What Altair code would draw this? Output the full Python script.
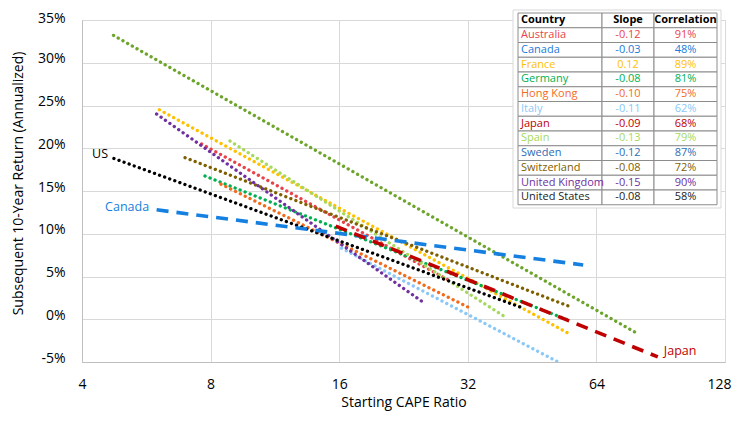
import altair as alt
import pandas as pd

FONT = "Open Sans"

# ---- regression lines (x = starting CAPE, y = subsequent 10y return %) ----
countries = ["Australia", "Canada", "France", "Germany", "Hong Kong", "Italy",
             "Japan", "Spain", "Sweden", "Switzerland", "United Kingdom", "United States"]
x_start = [7.62, 5.98, 6.07, 7.76, 8.46, 16.2, 15.7, 8.88, 4.74, 6.97, 5.98, 4.75]
y_start = [20.5, 12.8, 24.5, 16.75, 15.8, 8.3, 10.9, 20.85, 33.2, 18.9, 24.0, 18.8]
x_end = [29.1, 59.6, 55.3, 54.9, 32.1, 52.1, 89.1, 38.96, 79.2, 55.0, 25.2, 42.4]
y_end = [4.47, 6.35, -1.7, -0.09, 1.4, -5.0, -4.4, 0.34, -1.57, 1.55, 1.96, 1.43]
line_colors = ["#e8434b", "#1580e0", "#ffc000", "#00b050", "#f26b1d", "#8ac8f8",
               "#c00000", "#a6d95b", "#6ca52a", "#7f6000", "#7030a0", "#000000"]
dashed = ["Canada", "Japan"]

# ---- table ----
slopes = ["-0.12", "-0.03", "0.12", "-0.08", "-0.10", "-0.11",
          "-0.09", "-0.13", "-0.12", "-0.08", "-0.15", "-0.08"]
correlations = ["91%", "48%", "89%", "81%", "75%", "62%",
                "68%", "79%", "87%", "72%", "90%", "58%"]
table_colors = ["#e8434b", "#1a7ad8", "#ffc000", "#00b050", "#f26b1d", "#8ac8f8",
                "#c00000", "#a6d95b", "#2f6db5", "#7f6000", "#7030a0", "#222222"]
headers = ["Country", "Slope", "Correlation"]

# ---- annotations ----
ann_text = ["US", "Canada", "Japan"]
ann_x = [4.41, 5.1, 100.5]
ann_y = [19.3, 13.1, -3.7]
ann_color = ["#000000", "#1580e0", "#c00000"]

W, H = 643, 342

rows = []
for i, c in enumerate(countries):
    rows.append({"country": c, "x": x_start[i], "y": y_start[i], "pt": 0})
    rows.append({"country": c, "x": x_end[i], "y": y_end[i], "pt": 1})
lines_df = pd.DataFrame(rows)

xscale = alt.Scale(type="log", base=2, domain=[4, 128], nice=False)
yscale = alt.Scale(domain=[-5, 35], nice=False)
cscale = alt.Scale(domain=countries, range=line_colors)

xenc = alt.X("x:Q", scale=xscale,
             axis=alt.Axis(values=[4, 8, 16, 32, 64, 128], grid=True, ticks=False,
                           labelFlush=False, labelPadding=15, labelFontSize=14,
                           labelOffset={"condition": {"test": "datum.value == 128", "value": -6}, "value": 0},
                           title="Starting CAPE Ratio", titleFontSize=14,
                           titleFontWeight="normal", titlePadding=4,
                           domainColor="#bfbfbf", gridColor="#d9d9d9",
                           labelColor="#000000", titleColor="#000000",
                           labelFont=FONT, titleFont=FONT))
yenc = alt.Y("y:Q", scale=yscale,
             axis=alt.Axis(values=list(range(-5, 40, 5)), grid=True, ticks=False,
                           labelExpr="datum.value + '%'", labelPadding=17,
                           labelOffset={"condition": {"test": "datum.value == 35", "value": -2}, "value": -4},
                           labelFontSize=14, title="Subsequent 10-Year Return (Annualized)",
                           titleFontSize=14, titleFontWeight="normal",
                           titleX=-64, titleY=H / 2 - 8, titleAlign="center",
                           titleBaseline="middle", titleAngle=-90,
                           domainColor="#bfbfbf", gridColor="#d9d9d9",
                           labelColor="#000000", titleColor="#000000",
                           labelFont=FONT, titleFont=FONT))

base = alt.Chart(lines_df)
dotted = base.transform_filter(
    alt.FieldOneOfPredicate(field="country", oneOf=[c for c in countries if c not in dashed])
).mark_line(strokeDash=[0.1, 5.3], strokeCap="round", strokeWidth=3.3, clip=True).encode(
    x=xenc, y=yenc, detail="country:N",
    color=alt.Color("country:N", scale=cscale, legend=None), order="pt:Q")
dash = base.transform_filter(
    alt.FieldOneOfPredicate(field="country", oneOf=dashed)
).mark_line(strokeDash=[12, 8], strokeWidth=3.6, clip=True).encode(
    x=alt.X("x:Q", scale=xscale), y=alt.Y("y:Q", scale=yscale), detail="country:N",
    color=alt.Color("country:N", scale=cscale, legend=None), order="pt:Q")

ann_df = pd.DataFrame({"t": ann_text, "x": ann_x, "y": ann_y, "c": ann_color})
ann = alt.Chart(ann_df).mark_text(font=FONT, fontSize=12.5, align="center", baseline="middle").encode(
    x=alt.X("x:Q", scale=xscale), y=alt.Y("y:Q", scale=yscale),
    text="t:N", color=alt.Color("c:N", scale=None))

# table geometry (pixels relative to plot origin)
col_edges = [436, 520, 572, 635]
row_top = -7
row_h = 14.75
n_rows = len(countries) + 1

cells = []
for r in range(n_rows):
    for c in range(3):
        cells.append({"x0": col_edges[c], "x1": col_edges[c + 1],
                      "y0": row_top + r * row_h, "y1": row_top + (r + 1) * row_h})
cells_df = pd.DataFrame(cells)

frame = alt.Chart(pd.DataFrame({"x0": [431], "x1": [639], "y0": [-10], "y1": [188]})).mark_rect(
    fill="white", stroke="#d9d9d9", strokeWidth=1).encode(
    x=alt.X("x0:Q", scale=None), x2="x1:Q", y=alt.Y("y0:Q", scale=None), y2="y1:Q")

cell_layer = alt.Chart(cells_df).mark_rect(fill="white", stroke="#8c8c8c", strokeWidth=1).encode(
    x=alt.X("x0:Q", scale=None), x2="x1:Q", y=alt.Y("y0:Q", scale=None), y2="y1:Q")

trows = []
for j, h in enumerate(headers):
    xs = [col_edges[0] + 3, (col_edges[1] + col_edges[2]) / 2, (col_edges[2] + col_edges[3]) / 2]
    trows.append({"t": h, "px": xs[j], "py": row_top + 0.5 * row_h, "c": "#000000",
                  "al": ["left", "center", "center"][j], "w": "bold"})
for i, c in enumerate(countries):
    py = row_top + (i + 1.5) * row_h
    trows.append({"t": c, "px": col_edges[0] + 3, "py": py, "c": table_colors[i], "al": "left", "w": "normal"})
    trows.append({"t": slopes[i], "px": (col_edges[1] + col_edges[2]) / 2, "py": py, "c": table_colors[i], "al": "center", "w": "normal"})
    trows.append({"t": correlations[i], "px": (col_edges[2] + col_edges[3]) / 2, "py": py, "c": table_colors[i], "al": "center", "w": "normal"})
tdf = pd.DataFrame(trows)

def tlayer(al, w):
    return alt.Chart(tdf).transform_filter(
        (alt.datum.al == al) & (alt.datum.w == w)
    ).mark_text(font=FONT, fontSize=11, align=al, baseline="middle", fontWeight=w).encode(
        x=alt.X("px:Q", scale=None), y=alt.Y("py:Q", scale=None),
        text="t:N", color=alt.Color("c:N", scale=None))

chart = alt.layer(
    dotted, dash, ann, frame, cell_layer,
    tlayer("left", "normal"), tlayer("center", "normal"),
    tlayer("left", "bold"), tlayer("center", "bold"),
).properties(
    width=W, height=H,
    autosize=alt.AutoSizeParams(type="none"),
    padding={"left": 74, "top": 12, "right": 8, "bottom": 52},
).configure_view(stroke=None).configure(background="white")

chart.save("out.html", embed_options={"renderer": "svg", "actions": False})
